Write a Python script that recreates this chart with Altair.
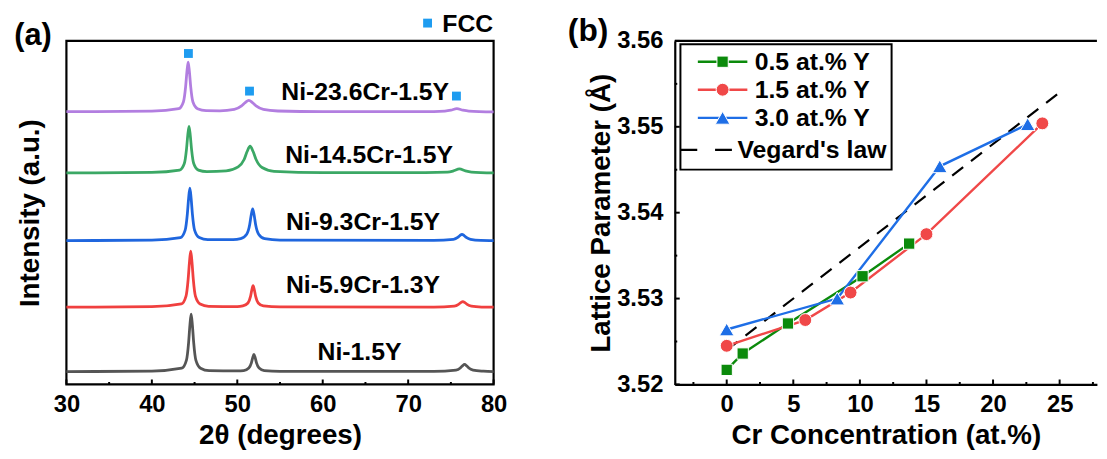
import altair as alt
import pandas as pd

FONT = "Liberation Sans"

# ---------------- Panel (a): XRD patterns (offset curves, a.u.) ----------------
samples = ["Ni-1.5Y", "Ni-5.9Cr-1.3Y", "Ni-9.3Cr-1.5Y", "Ni-14.5Cr-1.5Y", "Ni-23.6Cr-1.5Y"]
sample_colors = ["#555555", "#f0403f", "#1f66de", "#3ba865", "#b27ee0"]

theta_ni = [30, 40, 43.5, 44.05, 44.3, 44.45, 44.6, 44.75, 44.9, 45.15, 45.7, 46.7, 50, 50.75, 51.35,
            51.65, 51.8, 51.95, 52.1, 52.25, 52.55, 53.15, 55, 73, 75.6, 76.1, 76.35, 76.6, 76.85, 77.1,
            77.6, 78.8, 80]
int_ni = [13, 13.5, 16.4, 24.6, 42, 59.4, 71, 59.4, 42, 24.6, 16.4, 13.9, 13.6, 14, 16.5,
          21.7, 26.8, 30.3, 26.8, 21.7, 16.5, 14, 13.3, 13.2, 14.5, 16.6, 18.8, 20.3, 18.8, 16.6,
          14.5, 13.4, 13]

theta_59 = [30, 40, 43.45, 44.0, 44.25, 44.4, 44.55, 44.7, 44.85, 45.1, 45.65, 46.65, 50, 50.65, 51.25,
            51.55, 51.7, 51.85, 52.0, 52.15, 52.45, 53.05, 55, 73, 75.4, 75.9, 76.15, 76.4, 76.65, 76.9,
            77.4, 78.6, 80]
int_59 = [78, 78.5, 81.3, 89.3, 106.4, 123.4, 134.7, 123.4, 106.4, 89.3, 81.3, 78.9, 78.6, 79.3, 82.3,
          88.9, 95.4, 99.7, 95.4, 88.9, 82.3, 79.3, 78.3, 78.2, 79.1, 80.9, 82.6, 83.7, 82.6, 80.9,
          79.1, 78.2, 78]

theta_93 = [30, 40, 43.35, 43.9, 44.15, 44.3, 44.45, 44.6, 44.75, 45.0, 45.55, 46.55, 49.5, 50.4, 51.1,
            51.45, 51.625, 51.8, 51.975, 52.15, 52.5, 53.2, 55, 73, 75.3, 75.8, 76.05, 76.3, 76.55, 76.8,
            77.3, 78.5, 80]
int_93 = [145.3, 145.8, 148.4, 155.9, 171.8, 187.7, 198.3, 187.7, 171.8, 155.9, 148.4, 146.3, 146.3, 147.2, 151.7,
          161.3, 170.9, 177.3, 170.9, 161.3, 151.7, 147.2, 145.8, 145.5, 146.6, 148.5, 150.4, 151.7, 150.4, 148.5,
          146.6, 145.5, 145.3]

theta_145 = [30, 40, 43.25, 43.8, 44.05, 44.2, 44.35, 44.5, 44.65, 44.9, 45.45, 46.45, 48.7, 50.1, 50.8,
             51.15, 51.5, 51.85, 52.2, 52.9, 54.3, 60, 72, 74.6, 75.3, 76.0, 76.7, 77.4, 80]
int_145 = [213.7, 214.2, 216.5, 223.1, 237.2, 251.3, 260.7, 251.3, 237.2, 223.1, 216.5, 215, 215.8, 219.8, 227.2,
           235.3, 240.7, 235.3, 227.2, 219.1, 215.3, 214, 214, 214.5, 215.7, 217.7, 215.7, 214.5, 213.7]

theta_236 = [30, 40, 43.15, 43.7, 43.95, 44.1, 44.25, 44.4, 44.55, 44.8, 45.35, 46.35, 47.95, 49.65, 50.5,
             50.925, 51.35, 51.775, 52.2, 53.05, 54.75, 60, 73, 74.3, 75.0, 75.7, 76.4, 77.1, 80]
int_236 = [275.5, 276, 278.5, 285.5, 300.5, 315.5, 325.5, 315.5, 300.5, 285.5, 278.5, 276.5, 276.4, 277.8, 281.3,
           284.7, 287, 284.7, 281.3, 277.8, 276.2, 275.5, 275.6, 276.1, 277, 278.5, 277, 276.1, 275.3]

label_theta = [59.4, 55.7, 55.7, 55.6, 55.15]
label_int = [33, 100, 164, 232, 295]

fcc_theta = [44.28, 51.43, 75.65]
fcc_int = [334.3, 296.3, 291.3]

xa_major = [30, 40, 50, 60, 70, 80]
xa_minor = [35, 45, 55, 65, 75]

# ---------------- Panel (b): lattice parameter ----------------
series_names = ["0.5 at.% Y", "1.5 at.% Y", "3.0 at.% Y"]
series_colors = ["#0b8a0b", "#f04848", "#1e6ee6"]
series_shapes = ["square", "circle", "triangle-up"]
series_sizes = [130, 170, 220]

cr_05 = [0, 1.2, 4.6, 10.2, 13.7]
a_05 = [3.5217, 3.5236, 3.5271, 3.5326, 3.5364]
cr_15 = [0, 5.9, 9.3, 15.0, 23.7]
a_15 = [3.5245, 3.5275, 3.5307, 3.5375, 3.5504]
cr_30 = [0, 8.3, 16.0, 22.6]
a_30 = [3.5264, 3.5300, 3.5454, 3.5503]
veg_name = "Vegard's law"
cr_veg = [0, 25]
a_veg = [3.5240, 3.5540]

xb_major = [0, 5, 10, 15, 20, 25]
xb_minor = [-2.5, 2.5, 7.5, 12.5, 17.5, 22.5, 27.5]
yb_major = [3.52, 3.53, 3.54, 3.55, 3.56]
yb_minor = [3.525, 3.535, 3.545, 3.555]

# ---------------- sizes ----------------
W_A, H = 431.5, 347
W_B = 426.4
FW = 2.2  # frame width

axis_lab = dict(labelFont=FONT, labelFontWeight="bold", labelFontSize=24, labelColor="black",
                titleFont=FONT, titleFontWeight="bold", titleFontSize=28, titleColor="black",
                grid=False, ticks=False, labelFlush=False)

# ---------------- Panel (a) build ----------------
rows = []
for name, th, it in zip(samples, [theta_ni, theta_59, theta_93, theta_145, theta_236],
                        [int_ni, int_59, int_93, int_145, int_236]):
    for t, v in zip(th, it):
        rows.append({"sample": name, "theta": t, "intensity": v})
df_a = pd.DataFrame(rows)

xs_a = alt.Scale(domain=[30, 80], nice=False, zero=False)
ys_a = alt.Scale(domain=[0, 347], nice=False, zero=False)
xax_a = alt.Axis(values=xa_major, title="2θ (degrees)", domain=False, labelPadding=8, titlePadding=6, **axis_lab)
yax_a = alt.Axis(title="Intensity (a.u.)", labels=False, domain=False, titlePadding=22, **axis_lab)


def XA(f):
    return alt.X(f, scale=xs_a, axis=xax_a)


def YA(f):
    return alt.Y(f, scale=ys_a, axis=yax_a)


lines_a = alt.Chart(df_a).mark_line(interpolate="monotone", strokeWidth=2.8).encode(
    x=XA("theta:Q"), y=YA("intensity:Q"),
    color=alt.Color("sample:N", scale=alt.Scale(domain=samples, range=sample_colors), legend=None),
    detail="sample:N",
)

df_lab = pd.DataFrame({"label": samples, "lx": label_theta, "ly": label_int})
labels_a = alt.Chart(df_lab).mark_text(align="left", baseline="middle", font=FONT, fontSize=25,
                                       fontWeight="bold", color="black").encode(
    x=XA("lx:Q"), y=YA("ly:Q"), text="label:N")

df_fcc = pd.DataFrame({"t": fcc_theta, "i": fcc_int})
fcc_marks = alt.Chart(df_fcc).mark_square(size=80, color="#1e9cf0", opacity=1).encode(
    x=XA("t:Q"), y=YA("i:Q"))

df_one = pd.DataFrame({"t": ["FCC"]})
fcc_leg_sq = alt.Chart(df_one).mark_square(size=80, color="#1e9cf0", opacity=1).encode(
    x=alt.value(364.8), y=alt.value(-18))
fcc_leg_tx = alt.Chart(df_one).mark_text(align="left", baseline="middle", font=FONT, fontSize=25,
                                         fontWeight="bold", color="black").encode(
    x=alt.value(379.7), y=alt.value(-17), text="t:N")

df_pa = pd.DataFrame({"t": ["(a)"]})
tag_a = alt.Chart(df_pa).mark_text(align="left", baseline="middle", font=FONT, fontSize=31,
                                   fontWeight="bold", color="black").encode(
    x=alt.value(-52.7), y=alt.value(-5), text="t:N")

ticks_a_major = alt.Chart(pd.DataFrame({"v": xa_major})).mark_rule(color="black", strokeWidth=2).encode(
    x=XA("v:Q"), y=alt.value(H), y2=alt.value(H - 5))
ticks_a_minor = alt.Chart(pd.DataFrame({"v": xa_minor})).mark_rule(color="black", strokeWidth=2).encode(
    x=XA("v:Q"), y=alt.value(H), y2=alt.value(H - 2.5))

panel_a = alt.layer(lines_a, labels_a, fcc_marks, fcc_leg_sq, fcc_leg_tx, tag_a,
                    ticks_a_major, ticks_a_minor).properties(
    width=W_A, height=H, view=alt.ViewBackground(stroke="black", strokeWidth=FW))

# ---------------- Panel (b) build ----------------
xs_b = alt.Scale(domain=[-3.9, 27.8], nice=False, zero=False)
ys_b = alt.Scale(domain=[3.52, 3.56], nice=False, zero=False)
xax_b = alt.Axis(values=xb_major, title="Cr Concentration (at.%)", domain=True, domainColor="black",
                 domainWidth=FW, labelPadding=8, titlePadding=6, **axis_lab)
yax_b = alt.Axis(values=yb_major, format=".2f", title="Lattice Parameter (Å)", domain=True,
                 domainColor="black", domainWidth=FW, labelPadding=12, titlePadding=1, **axis_lab)


def XB(f):
    return alt.X(f, scale=xs_b, axis=xax_b)


def YB(f):
    return alt.Y(f, scale=ys_b, axis=yax_b)


df_veg = pd.DataFrame({"cr": cr_veg, "a": a_veg})
veg_line = alt.Chart(df_veg).mark_line(color="black", strokeWidth=2.2, strokeDash=[14, 10]).encode(
    x=XB("cr:Q"), y=YB("a:Q"))

line_layers, point_layers = [], []
for name, col, shp, sz, xs, ys in zip(series_names, series_colors, series_shapes, series_sizes,
                                      [cr_05, cr_15, cr_30], [a_05, a_15, a_30]):
    d = pd.DataFrame({"cr": xs, "a": ys})
    line_layers.append(alt.Chart(d).mark_line(color=col, strokeWidth=2.4).encode(x=XB("cr:Q"), y=YB("a:Q")))
    point_layers.append(alt.Chart(d).mark_point(shape=shp, filled=True, size=sz, color=col, stroke="white",
                                                strokeWidth=1, opacity=1).encode(x=XB("cr:Q"), y=YB("a:Q")))

ticks_b = [
    alt.Chart(pd.DataFrame({"v": xb_major})).mark_rule(color="black", strokeWidth=2).encode(
        x=XB("v:Q"), y=alt.value(H), y2=alt.value(H - 5)),
    alt.Chart(pd.DataFrame({"v": xb_minor})).mark_rule(color="black", strokeWidth=2).encode(
        x=XB("v:Q"), y=alt.value(H), y2=alt.value(H - 2.5)),
    alt.Chart(pd.DataFrame({"v": yb_major})).mark_rule(color="black", strokeWidth=2).encode(
        y=YB("v:Q"), x=alt.value(0), x2=alt.value(5)),
    alt.Chart(pd.DataFrame({"v": yb_minor})).mark_rule(color="black", strokeWidth=2).encode(
        y=YB("v:Q"), x=alt.value(0), x2=alt.value(2.5)),
]

top_border = alt.Chart(df_one).mark_rule(color="black", strokeWidth=FW).encode(
    x=alt.value(0), x2=alt.value(W_B), y=alt.value(0))

# legend (manual, Origin-style box)
leg_box = alt.Chart(df_one).mark_rect(fill="white", stroke="black", strokeWidth=2).encode(
    x=alt.value(5.7), x2=alt.value(219), y=alt.value(3.3), y2=alt.value(130))
leg_layers = [leg_box]
leg_y = [21, 49.3, 77.7]
for name, col, shp, sz, yy in zip(series_names, series_colors, series_shapes, series_sizes, leg_y):
    d = pd.DataFrame({"t": [name]})
    leg_layers.append(alt.Chart(d).mark_rule(color=col, strokeWidth=2.4).encode(
        x=alt.value(23.3), x2=alt.value(73.3), y=alt.value(yy)))
    leg_layers.append(alt.Chart(d).mark_point(shape=shp, filled=True, size=sz, color=col, stroke="white",
                                              strokeWidth=1, opacity=1).encode(
        x=alt.value(48.3), y=alt.value(yy)))
    leg_layers.append(alt.Chart(d).mark_text(align="left", baseline="middle", font=FONT, fontSize=25,
                                             fontWeight="bold", color="black").encode(
        x=alt.value(80.7), y=alt.value(yy), text="t:N"))
d = pd.DataFrame({"t": [veg_name]})
leg_layers.append(alt.Chart(d).mark_rule(color="black", strokeWidth=2.2, strokeDash=[17, 18]).encode(
    x=alt.value(5.7), x2=alt.value(58.3), y=alt.value(110)))
leg_layers.append(alt.Chart(d).mark_text(align="left", baseline="middle", font=FONT, fontSize=25,
                                         fontWeight="bold", color="black").encode(
    x=alt.value(63.3), y=alt.value(110), text="t:N"))

df_pb = pd.DataFrame({"t": ["(b)"]})
tag_b = alt.Chart(df_pb).mark_text(align="left", baseline="middle", font=FONT, fontSize=32,
                                   fontWeight="bold", color="black").encode(
    x=alt.value(-108), y=alt.value(-10), text="t:N")

panel_b = alt.layer(veg_line, *line_layers, *point_layers, *ticks_b, top_border, *leg_layers, tag_b).properties(
    width=W_B, height=H, view=alt.ViewBackground(stroke="transparent"))

chart = alt.hconcat(panel_a, panel_b, spacing=182.5, bounds="flush").properties(
    padding={"left": 5, "top": 0, "right": 0, "bottom": 0}
).configure(font=FONT).configure_view(stroke="black")

chart.save("out.html", embed_options={"renderer": "svg", "actions": False})
